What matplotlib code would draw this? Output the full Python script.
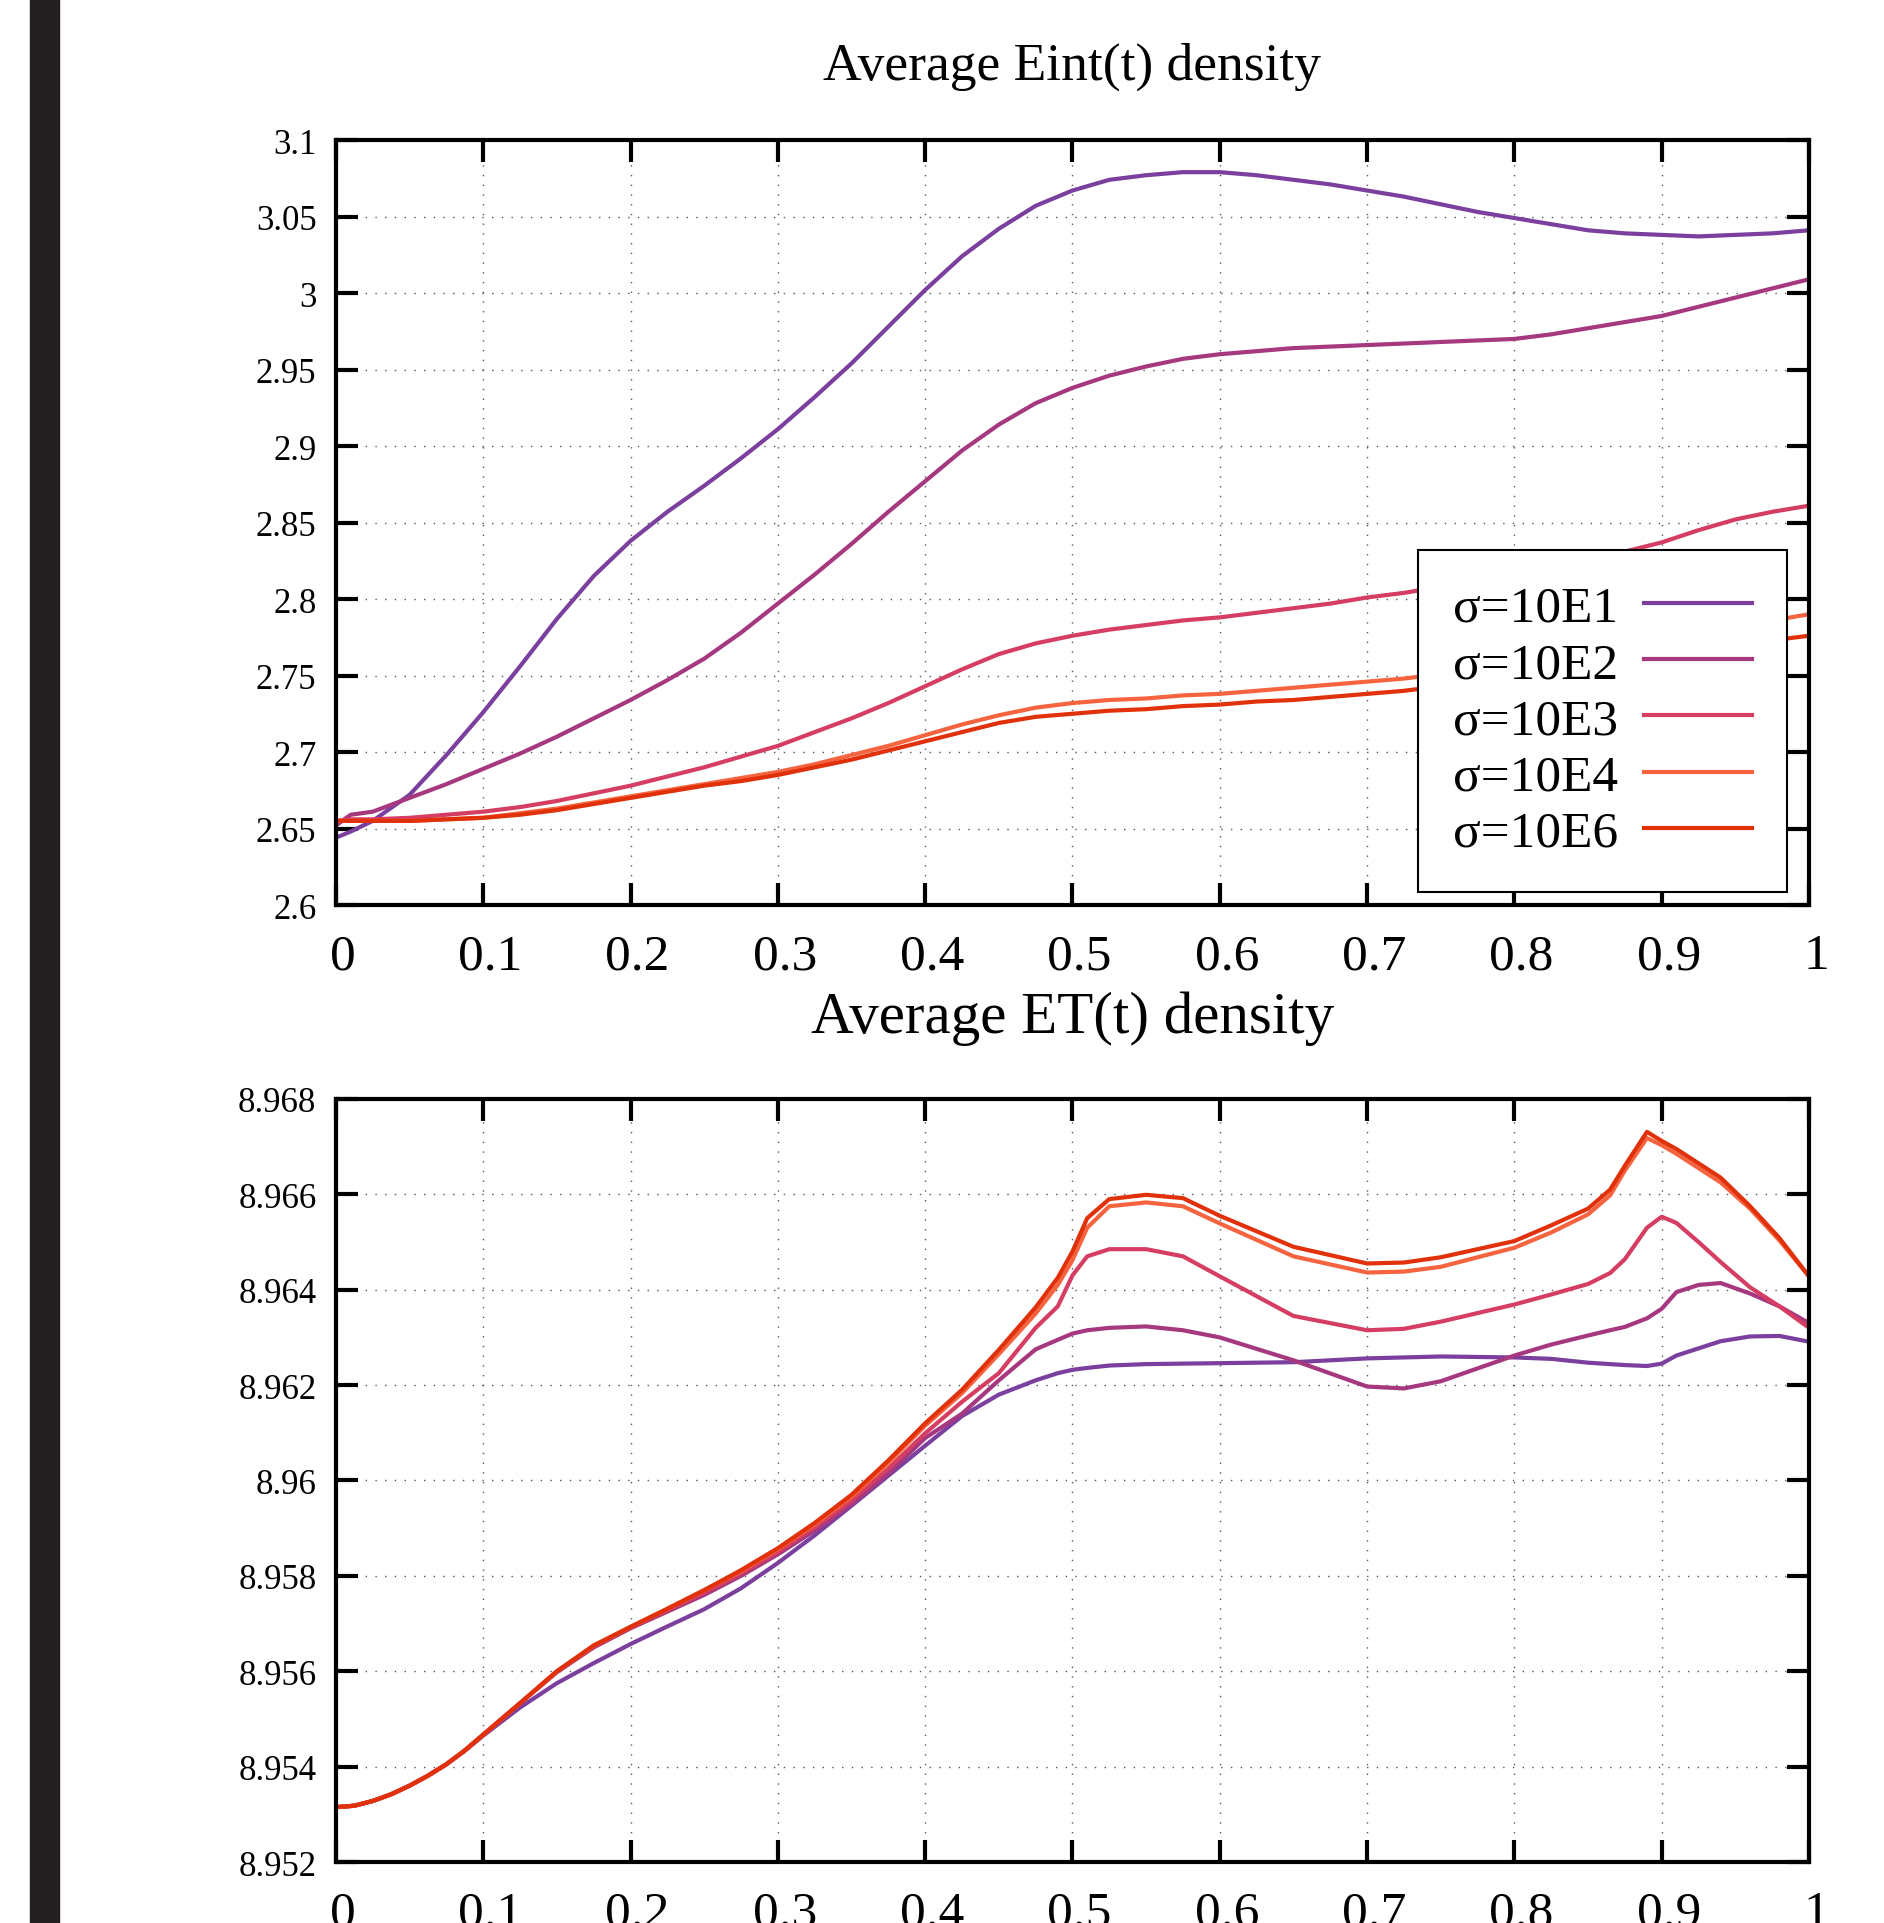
import numpy as np
import matplotlib
matplotlib.use('Agg')
from matplotlib import pyplot as plt
from matplotlib.patches import Rectangle
from matplotlib.ticker import FuncFormatter, MultipleLocator
from matplotlib.transforms import ScaledTranslation

plt.rcParams['font.family'] = ['Liberation Serif', 'DejaVu Serif']

labels = ['σ=10E1', 'σ=10E2', 'σ=10E3', 'σ=10E4', 'σ=10E6']
colors = ['#7b3f9d', '#a6387f', '#d63d62', '#f6633f', '#e0310b']

# Average Eint(t) density
t_eint = [0, 0.01, 0.025, 0.05, 0.075, 0.1, 0.125, 0.15, 0.175, 0.2, 0.225, 0.25, 0.275,
          0.3, 0.325, 0.35, 0.375, 0.4, 0.425, 0.45, 0.475, 0.5, 0.525, 0.55, 0.575, 0.6,
          0.625, 0.65, 0.675, 0.7, 0.725, 0.75, 0.775, 0.8, 0.825, 0.85, 0.875, 0.9, 0.925,
          0.95, 0.975, 1.0]
eint_e1 = [2.644, 2.648, 2.655, 2.672, 2.698, 2.726, 2.756, 2.787, 2.815, 2.838, 2.857,
           2.874, 2.892, 2.911, 2.932, 2.954, 2.978, 3.002, 3.024, 3.042, 3.057, 3.067,
           3.074, 3.077, 3.079, 3.079, 3.077, 3.074, 3.071, 3.067, 3.063, 3.058, 3.053,
           3.049, 3.045, 3.041, 3.039, 3.038, 3.037, 3.038, 3.039, 3.041]
eint_e2 = [2.652, 2.659, 2.661, 2.670, 2.679, 2.689, 2.699, 2.710, 2.722, 2.734, 2.747,
           2.761, 2.778, 2.797, 2.816, 2.836, 2.857, 2.877, 2.897, 2.914, 2.928, 2.938,
           2.946, 2.952, 2.957, 2.960, 2.962, 2.964, 2.965, 2.966, 2.967, 2.968, 2.969,
           2.970, 2.973, 2.977, 2.981, 2.985, 2.991, 2.997, 3.003, 3.009]
eint_e3 = [2.655, 2.656, 2.656, 2.657, 2.659, 2.661, 2.664, 2.668, 2.673, 2.678, 2.684,
           2.690, 2.697, 2.704, 2.713, 2.722, 2.732, 2.743, 2.754, 2.764, 2.771, 2.776,
           2.780, 2.783, 2.786, 2.788, 2.791, 2.794, 2.797, 2.801, 2.804, 2.808, 2.812,
           2.816, 2.821, 2.826, 2.831, 2.837, 2.845, 2.852, 2.857, 2.861]
eint_e4 = [2.655, 2.655, 2.655, 2.655, 2.656, 2.657, 2.660, 2.663, 2.667, 2.671, 2.675,
           2.679, 2.683, 2.687, 2.692, 2.698, 2.704, 2.711, 2.718, 2.724, 2.729, 2.732,
           2.734, 2.735, 2.737, 2.738, 2.740, 2.742, 2.744, 2.746, 2.748, 2.751, 2.754,
           2.757, 2.760, 2.764, 2.768, 2.772, 2.776, 2.781, 2.786, 2.790]
eint_e6 = [2.655, 2.655, 2.655, 2.655, 2.656, 2.657, 2.659, 2.662, 2.666, 2.670, 2.674,
           2.678, 2.681, 2.685, 2.690, 2.695, 2.701, 2.707, 2.713, 2.719, 2.723, 2.725,
           2.727, 2.728, 2.730, 2.731, 2.733, 2.734, 2.736, 2.738, 2.740, 2.743, 2.746,
           2.749, 2.752, 2.756, 2.760, 2.763, 2.766, 2.769, 2.773, 2.776]

# Average ET(t) density
t_et = [0, 0.0125, 0.025, 0.0375, 0.05, 0.0625, 0.075, 0.0875, 0.1, 0.125, 0.15, 0.175,
        0.2, 0.225, 0.25, 0.275, 0.3, 0.325, 0.35, 0.375, 0.4, 0.425, 0.45, 0.475, 0.49,
        0.5, 0.51, 0.525, 0.55, 0.575, 0.6, 0.65, 0.7, 0.725, 0.75, 0.8, 0.825, 0.85,
        0.865, 0.875, 0.89, 0.9, 0.91, 0.925, 0.94, 0.96, 0.98, 1.0]
et_e1 = [8.95315, 8.95318, 8.95328, 8.95342, 8.95360, 8.95381, 8.95405, 8.95433, 8.95465,
         8.95524, 8.95575, 8.95617, 8.95657, 8.95694, 8.95730, 8.95774, 8.95827, 8.95885,
         8.95947, 8.96010, 8.96073, 8.96135, 8.96180, 8.96210, 8.96225, 8.96232, 8.96236,
         8.96241, 8.96244, 8.96245, 8.96246, 8.96248, 8.96256, 8.96258, 8.96260, 8.96258,
         8.96255, 8.96247, 8.96244, 8.96242, 8.96240, 8.96245, 8.96262, 8.96277, 8.96292,
         8.96302, 8.96303, 8.96291]
et_e2 = [8.95315, 8.95318, 8.95328, 8.95342, 8.95360, 8.95381, 8.95405, 8.95434, 8.95467,
         8.95533, 8.95598, 8.95650, 8.95690, 8.95725, 8.95760, 8.95800, 8.95845, 8.95895,
         8.95950, 8.96015, 8.96089, 8.96140, 8.96210, 8.96275, 8.96295, 8.96308, 8.96315,
         8.96320, 8.96323, 8.96315, 8.96300, 8.96252, 8.96197, 8.96193, 8.96208, 8.96262,
         8.96285, 8.96304, 8.96315, 8.96322, 8.96340, 8.96360, 8.96395, 8.96410, 8.96414,
         8.96392, 8.96365, 8.96330]
et_e3 = [8.95315, 8.95318, 8.95328, 8.95342, 8.95360, 8.95381, 8.95405, 8.95434, 8.95467,
         8.95533, 8.95599, 8.95652, 8.95692, 8.95728, 8.95765, 8.95805, 8.95850, 8.95902,
         8.95958, 8.96025, 8.96099, 8.96165, 8.96225, 8.96320, 8.96365, 8.96430, 8.96470,
         8.96485, 8.96485, 8.96470, 8.96428, 8.96345, 8.96315, 8.96318, 8.96333, 8.96369,
         8.96390, 8.96412, 8.96435, 8.96464, 8.96530, 8.96553, 8.96540, 8.96500, 8.96458,
         8.96405, 8.96365, 8.96320]
et_e4 = [8.95315, 8.95318, 8.95328, 8.95342, 8.95360, 8.95381, 8.95405, 8.95434, 8.95467,
         8.95533, 8.95600, 8.95654, 8.95693, 8.95731, 8.95770, 8.95810, 8.95856, 8.95908,
         8.95966, 8.96037, 8.96115, 8.96183, 8.96265, 8.96350, 8.96410, 8.96462, 8.96530,
         8.96575, 8.96583, 8.96575, 8.96539, 8.96470, 8.96436, 8.96438, 8.96448, 8.96488,
         8.96520, 8.96558, 8.96598, 8.96650, 8.96718, 8.96703, 8.96685, 8.96655, 8.96625,
         8.96570, 8.96503, 8.96428]
et_e6 = [8.95315, 8.95318, 8.95328, 8.95342, 8.95360, 8.95381, 8.95405, 8.95434, 8.95467,
         8.95533, 8.95600, 8.95654, 8.95693, 8.95731, 8.95770, 8.95812, 8.95858, 8.95911,
         8.95970, 8.96042, 8.96120, 8.96190, 8.96274, 8.96363, 8.96425, 8.96480, 8.96550,
         8.96590, 8.96599, 8.96592, 8.96555, 8.96490, 8.96455, 8.96457, 8.96468, 8.96502,
         8.96535, 8.96570, 8.96610, 8.96660, 8.96731, 8.96712, 8.96695, 8.96665, 8.96635,
         8.96575, 8.96508, 8.96428]


def fmt(v, pos):
    return '%g' % round(v, 6)


def style_axes(ax, ylo, yhi, ystep):
    ax.set_xlim(0, 1)
    ax.set_ylim(ylo, yhi)
    ax.xaxis.set_major_locator(MultipleLocator(0.1))
    ax.yaxis.set_major_locator(MultipleLocator(ystep))
    ax.xaxis.set_major_formatter(FuncFormatter(fmt))
    ax.yaxis.set_major_formatter(FuncFormatter(fmt))
    ax.grid(True, linestyle=(0, (1, 6)), color='#555555', linewidth=1.0)
    ax.set_axisbelow(True)
    for s in ax.spines.values():
        s.set_linewidth(3.0)
    ax.tick_params(direction='in', length=16, width=3, top=True, right=True)
    ax.tick_params(axis='x', labelsize=37, pad=20)
    ax.tick_params(axis='y', labelsize=25, pad=14)
    # x labels sit a little to the right of their ticks
    shift = ScaledTranslation(5 / 72, 0, fig.dpi_scale_trans)
    for tk in ax.xaxis.get_major_ticks():
        tk.label1.set_transform(tk.label1.get_transform() + shift)


fig = plt.figure(figsize=(18.84, 19.24), dpi=100)
fig.add_artist(Rectangle((30 / 1884, 0), 29 / 1884, 1, transform=fig.transFigure,
                         color='#231f20', zorder=0))

ax1 = fig.add_axes([0.1783, 0.5291, 0.7819, 0.3976])
for y, c, lab in zip([eint_e1, eint_e2, eint_e3, eint_e4, eint_e6], colors, labels):
    ax1.plot(t_eint, y, color=c, linewidth=3.0, label=lab)
style_axes(ax1, 2.6, 3.1, 0.05)
ax1.set_title('Average Eint(t) density', fontsize=38.5, pad=44)
leg = ax1.legend(loc='upper left', bbox_to_anchor=(0.7346, 0.464), borderaxespad=0,
                 markerfirst=False, fontsize=37, handlelength=2.1, handletextpad=0.5,
                 labelspacing=0.18, borderpad=0.68, fancybox=False, framealpha=1)
leg.get_frame().set_edgecolor('black')
leg.get_frame().set_linewidth(1.5)

ax2 = fig.add_axes([0.1783, 0.0317, 0.7819, 0.3966])
for y, c, lab in zip([et_e1, et_e2, et_e3, et_e4, et_e6], colors, labels):
    ax2.plot(t_et, y, color=c, linewidth=3.0, label=lab)
style_axes(ax2, 8.952, 8.968, 0.002)
ax2.set_title('Average ET(t) density', fontsize=42.5, pad=48)

fig.savefig('out.png', dpi=100)
